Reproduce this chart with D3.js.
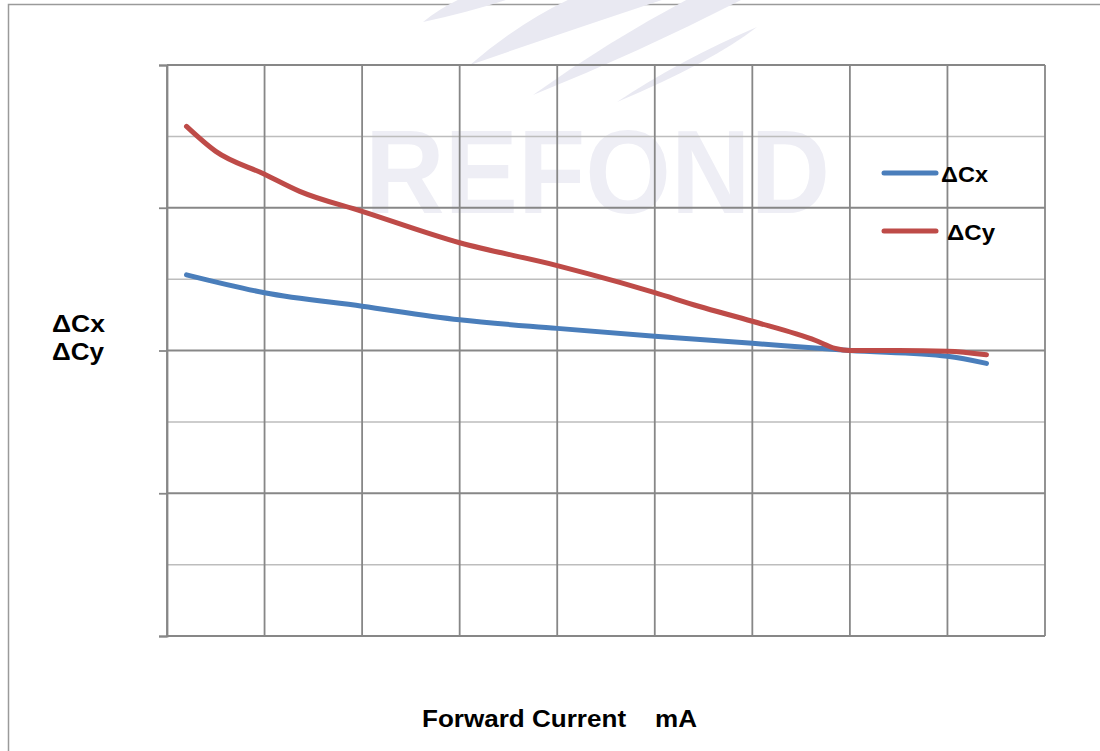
<!DOCTYPE html>
<html>
<head>
<meta charset="utf-8">
<script src="https://cdn.jsdelivr.net/npm/d3@7"></script>
<style>
  html, body { margin: 0; padding: 0; background: #fff; }
  svg { display: block; }
  text { font-family: "Liberation Sans", Arial, sans-serif; font-weight: bold; fill: #000; }
</style>
</head>
<body>
<svg id="chart" width="1100" height="751"></svg>
<script>
// ---- data (x in grid divisions of forward current, y in grid divisions) ----
const seriesNames = ["ΔCx", "ΔCy"];
const cxX = [0.2, 1, 2, 3, 4, 5, 6, 7, 8, 8.4];
const cxY = [1.06, 0.81, 0.62, 0.43, 0.31, 0.20, 0.10, 0.0, -0.08, -0.18];
const cyX = [0.2, 0.5, 1, 1.36, 2, 3, 4, 4.65, 5, 5.45, 6, 6.65, 6.85, 7, 7.5, 8, 8.4];
const cyY = [3.14, 2.79, 2.47, 2.23, 1.95, 1.51, 1.19, 0.95, 0.81, 0.62, 0.41, 0.14, 0.03, 0.0, 0.0, -0.01, -0.06];
const xGridTicks = [0, 1, 2, 3, 4, 5, 6, 7, 8, 9];
const yMajorTicks = [-4, -2, 0, 2, 4];
const yMinorTicks = [-3, -1, 1, 3];
const xTitle = "Forward Current    mA";
const yTitleLines = ["ΔCx", "ΔCy"];
const colors = ["#4A7EBB", "#BE4B48"];

const svg = d3.select("#chart");
const L = 167, T = 65, W = 878, H = 571;

// outer border
svg.append("rect").attr("x", 8.5).attr("y", 4.5).attr("width", 1200).attr("height", 900)
  .attr("fill", "none").attr("stroke", "#9a9a9a").attr("stroke-width", 1.5);

// watermark
const wm = svg.append("g").attr("fill", "#e9e9f2");
const swooshes = [
  "M423,22 Q440,8 462,-2 L512,-2 Q470,12 423,22 Z",
  "M470,65 Q520,22 572,-2 L668,-2 Q565,32 470,65 Z",
  "M533,95 Q610,40 690,-2 L745,-2 Q640,52 533,95 Z",
  "M617,102 Q680,60 757,27 Q712,62 617,102 Z"
];
wm.selectAll("path").data(swooshes).join("path").attr("d", d => d);
wm.append("text").attr("x", 365).attr("y", 213).attr("font-size", 118)
  .attr("textLength", 465).attr("lengthAdjust", "spacingAndGlyphs")
  .style("fill", "#eeeef5").text("REFOND");

const x = d3.scaleLinear().domain([0, 9]).range([L, L + W]);
const y = d3.scaleLinear().domain([-4, 4]).range([T + H, T]);

const g = svg.append("g");

// minor horizontal gridlines
g.selectAll("line.minor").data(yMinorTicks).join("line").attr("class", "minor")
  .attr("x1", L).attr("x2", L + W).attr("y1", d => y(d)).attr("y2", d => y(d))
  .attr("stroke", "#bdbdbd").attr("stroke-width", 1.5);

// major horizontal gridlines
g.selectAll("line.major").data(yMajorTicks).join("line").attr("class", "major")
  .attr("x1", L).attr("x2", L + W).attr("y1", d => y(d)).attr("y2", d => y(d))
  .attr("stroke", "#878787").attr("stroke-width", 1.8);

// vertical gridlines
g.selectAll("line.vg").data(xGridTicks).join("line").attr("class", "vg")
  .attr("x1", d => x(d)).attr("x2", d => x(d)).attr("y1", T).attr("y2", T + H)
  .attr("stroke", "#878787").attr("stroke-width", 1.8);

// left axis tick marks (no labels)
const yAxis = d3.axisLeft(y).tickValues(yMajorTicks).tickSize(8).tickFormat("");
const ya = svg.append("g").attr("transform", `translate(${L},0)`).call(yAxis);
ya.select(".domain").attr("stroke", "#878787").attr("stroke-width", 1.8);
ya.selectAll(".tick line").attr("stroke", "#878787").attr("stroke-width", 1.8);

// lines
const line = d3.line().x(d => x(d[0])).y(d => y(d[1])).curve(d3.curveMonotoneX);
const series = [d3.zip(cxX, cxY), d3.zip(cyX, cyY)];
svg.selectAll("path.series").data(series).join("path").attr("class", "series")
  .attr("d", line).attr("fill", "none")
  .attr("stroke", (d, i) => colors[i]).attr("stroke-width", 5)
  .attr("stroke-linecap", "round").attr("stroke-linejoin", "round");

// legend
const legY = [173, 231];
const legTextX = [941, 947];
const legTextBase = [182, 240];
const legW = [47, 48];
seriesNames.forEach((n, i) => {
  svg.append("line").attr("x1", 884).attr("x2", 936).attr("y1", legY[i]).attr("y2", legY[i])
    .attr("stroke", colors[i]).attr("stroke-width", 5).attr("stroke-linecap", "round");
  svg.append("text").attr("x", legTextX[i]).attr("y", legTextBase[i]).attr("font-size", 22)
    .attr("textLength", legW[i]).attr("lengthAdjust", "spacingAndGlyphs").text(n);
});

// axis titles
svg.append("text").attr("x", 52).attr("y", 332).attr("font-size", 23)
  .attr("textLength", 53).attr("lengthAdjust", "spacingAndGlyphs").text(yTitleLines[0]);
svg.append("text").attr("x", 52).attr("y", 360).attr("font-size", 23)
  .attr("textLength", 52).attr("lengthAdjust", "spacingAndGlyphs").text(yTitleLines[1]);
svg.append("text").attr("x", 422).attr("y", 727).attr("font-size", 24)
  .attr("xml:space", "preserve").style("white-space", "pre")
  .attr("textLength", 275).attr("lengthAdjust", "spacingAndGlyphs").text(xTitle);
</script>
</body>
</html>
